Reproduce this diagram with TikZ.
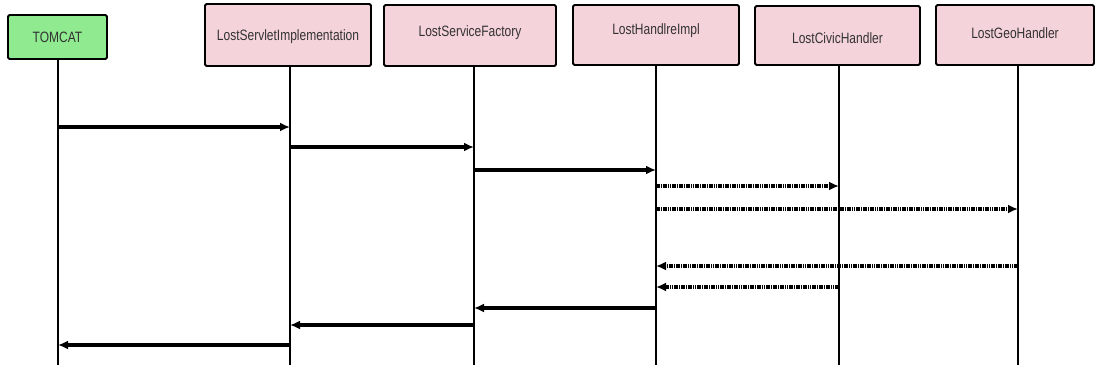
\documentclass[tikz,border=0pt]{standalone}
\usepackage{fontspec}
\setmainfont[FakeStretch=0.8]{Liberation Sans}
\usetikzlibrary{arrows.meta}
\definecolor{objpink}{RGB}{245,211,218}
\definecolor{objgreen}{RGB}{144,234,144}
\definecolor{objtext}{RGB}{50,50,50}
\tikzset{
  x=1pt, y=-1pt,
  objbox/.style={draw=black, line width=1.8pt, rounded corners=1.5pt,
    fill=objpink, inner sep=0pt},
  objlabel/.style={text=objtext, inner sep=0pt,
    font=\fontsize{15}{16}\selectfont},
  lifeline/.style={line width=1.4pt},
  callmsg/.style={line width=3.2pt, -{Latex[length=10pt,width=9pt]}},
  asyncmsg/.style={line width=3.2pt, dash pattern=on 1.6pt off 0.7pt,
    -{Latex[length=10pt,width=9pt]}}
}
\begin{document}
\begin{tikzpicture}
\useasboundingbox (0,0) rectangle (1096,367);

% participants
\node[objbox, fill=objgreen, minimum width=99pt, minimum height=44pt,
  label={[objlabel]center:TOMCAT}] (tomcat) at (57.5,37) {};
\node[objbox, minimum width=166pt, minimum height=62pt,
  label={[objlabel, yshift=-2pt]center:LostServletImplementation}] (servlet) at (288,35) {};
\node[objbox, minimum width=172pt, minimum height=61pt,
  label={[objlabel, yshift=3pt]center:LostServiceFactory}] (factory) at (470,35.5) {};
\node[objbox, minimum width=166pt, minimum height=60pt,
  label={[objlabel, yshift=4pt]center:LostHandlreImpl}] (handler) at (656,35) {};
\node[objbox, minimum width=165pt, minimum height=59pt,
  label={[objlabel, yshift=-3pt]center:LostCivicHandler}] (civic) at (837.5,35.5) {};
\node[objbox, minimum width=158pt, minimum height=60pt,
  label={[objlabel, yshift=2pt]center:LostGeoHandler}] (geo) at (1015,35) {};

% lifeline anchors
\coordinate (lT) at (58,0);
\coordinate (lS) at (290,0);
\coordinate (lF) at (474,0);
\coordinate (lH) at (656,0);
\coordinate (lC) at (839,0);
\coordinate (lG) at (1018,0);
\coordinate (bottom) at (0,365);

\draw[lifeline] (lT |- tomcat.south) -- (lT |- bottom);
\draw[lifeline] (lS |- servlet.south) -- (lS |- bottom);
\draw[lifeline] (lF |- factory.south) -- (lF |- bottom);
\draw[lifeline] (lH |- handler.south) -- (lH |- bottom);
\draw[lifeline] (lC |- civic.south) -- (lC |- bottom);
\draw[lifeline] (lG |- geo.south) -- (lG |- bottom);

% message rows
\coordinate (m1) at (0,127);
\coordinate (m2) at (0,147);
\coordinate (m3) at (0,170);
\coordinate (m4) at (0,186);
\coordinate (m5) at (0,209);
\coordinate (m6) at (0,266);
\coordinate (m7) at (0,287);
\coordinate (m8) at (0,308);
\coordinate (m9) at (0,325);
\coordinate (m10) at (0,345);

% requests
\draw[callmsg] (lT |- m1) -- (lS |- m1);
\draw[callmsg] (lS |- m2) -- (lF |- m2);
\draw[callmsg] (lF |- m3) -- (lH |- m3);
\draw[asyncmsg] (lH |- m4) -- (lC |- m4);
\draw[asyncmsg] (lH |- m5) -- (lG |- m5);

% replies
\draw[asyncmsg] (lG |- m6) -- (lH |- m6);
\draw[asyncmsg] (lC |- m7) -- (lH |- m7);
\draw[callmsg] (lH |- m8) -- (lF |- m8);
\draw[callmsg] (lF |- m9) -- (lS |- m9);
\draw[callmsg] (lS |- m10) -- (lT |- m10);
\end{tikzpicture}
\end{document}
